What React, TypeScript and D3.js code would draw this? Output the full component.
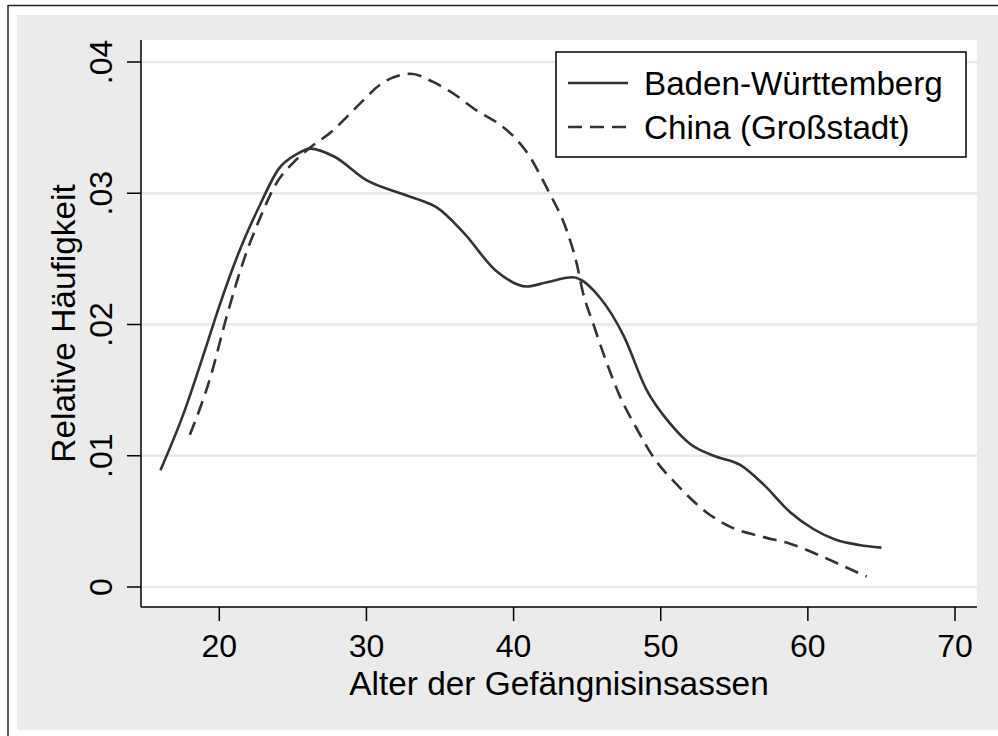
import React from "react";
import * as d3 from "d3";

const bwAge = [16, 17.5, 19.1, 20, 21.4, 22.8, 24, 25.3, 26.2, 27.8, 30, 32.3, 33.6, 34.8, 36.6, 38.8, 40.9, 42.2, 44, 45.9, 47.5, 49, 50.6, 52, 53.6, 55.4, 57, 58.8, 60.4, 61.9, 63.5, 65];
const bwDensity = [0.0089, 0.013, 0.0183, 0.0214, 0.0257, 0.0292, 0.0318, 0.033, 0.0334, 0.0328, 0.031, 0.03, 0.0295, 0.0289, 0.027, 0.0241, 0.0229, 0.0232, 0.0236, 0.022, 0.0191, 0.0151, 0.0125, 0.0109, 0.01, 0.0093, 0.0078, 0.0057, 0.0044, 0.0036, 0.0032, 0.003];

const cnAge = [18, 19.4, 20.5, 21.6, 22.8, 23.9, 25, 26.2, 27.75, 28.65, 29.8, 30.9, 33, 34.5, 35.9, 37.5, 39.1, 40.2, 41.1, 41.8, 42.4, 43.6, 44.3, 44.7, 45.4, 46.1, 47.2, 48.4, 49.5, 51.1, 53.1, 54.7, 57, 58.8, 60.6, 62.4, 64];
const cnDensity = [0.0116, 0.016, 0.0206, 0.0247, 0.0282, 0.0308, 0.0323, 0.0335, 0.0348, 0.0358, 0.0371, 0.03825, 0.0391, 0.0385, 0.0376, 0.0363, 0.0352, 0.0341, 0.0328, 0.0314, 0.0301, 0.0272, 0.0246, 0.0225, 0.0201, 0.0178, 0.0146, 0.012, 0.0099, 0.0078, 0.0057, 0.0046, 0.0038, 0.0033, 0.0025, 0.0016, 0.0008];

const xTicks = [20, 30, 40, 50, 60, 70];
const yTicks = [0, 0.01, 0.02, 0.03, 0.04];
const yTickLabels = ["0", ".01", ".02", ".03", ".04"];
const seriesNames = ["Baden-Württemberg", "China (Großstadt)"];
const xTitle = "Alter der Gefängnisinsassen";
const yTitle = "Relative Häufigkeit";

const FONT = "'Liberation Sans', Arial, Helvetica, sans-serif";
const LINE = "#333333";

export default function App() {
  const W = 998, H = 736;
  const plot = { left: 141, right: 977, top: 40, bottom: 607 };
  const x = d3.scaleLinear().domain([20, 70]).range([219.3, 955]);
  const y = d3.scaleLinear().domain([0, 0.04]).range([587, 62]);
  const line = d3.line<[number, number]>()
    .x((d) => x(d[0]))
    .y((d) => y(d[1]))
    .curve(d3.curveMonotoneX);
  const bw = line(bwAge.map((a, i) => [a, bwDensity[i]]) as [number, number][]) || "";
  const cn = line(cnAge.map((a, i) => [a, cnDensity[i]]) as [number, number][]) || "";
  const dash = "14,8";
  const legend = { x0: 556, y0: 52, x1: 966, y1: 157 };

  return (
    <svg width={W} height={H} style={{ position: "absolute", left: 0, top: 0 }} fontFamily={FONT}>
      <rect x={0} y={0} width={W} height={H} fill="#ffffff" />
      <rect x={17} y={15} width={W - 17} height={730 - 15} fill="#ebebeb" />
      <line x1={8} y1={5.5} x2={W} y2={5.5} stroke="#222" strokeWidth={1.5} />
      <line x1={8} y1={5} x2={8} y2={H} stroke="#222" strokeWidth={1.5} />
      <rect x={plot.left} y={plot.top} width={plot.right - plot.left} height={plot.bottom - plot.top} fill="#ffffff" />
      {yTicks.map((t) => (
        <line key={"g" + t} x1={plot.left} x2={plot.right} y1={y(t)} y2={y(t)} stroke="#e8e8e8" strokeWidth={2.5} />
      ))}
      <path d={bw} fill="none" stroke={LINE} strokeWidth={2.6} />
      <path d={cn} fill="none" stroke={LINE} strokeWidth={2.6} strokeDasharray={dash} />
      <line x1={plot.left} x2={plot.left} y1={plot.top} y2={plot.bottom} stroke="#000" strokeWidth={1.5} />
      <line x1={plot.left} x2={plot.right} y1={plot.bottom} y2={plot.bottom} stroke="#000" strokeWidth={1.5} />
      {yTicks.map((t, i) => (
        <g key={"y" + t}>
          <line x1={plot.left - 14} x2={plot.left} y1={y(t)} y2={y(t)} stroke="#000" strokeWidth={1.5} />
          <text transform={`translate(112,${y(t)}) rotate(-90)`} textAnchor="middle" fontSize={32} fill="#000">
            {yTickLabels[i]}
          </text>
        </g>
      ))}
      {xTicks.map((t) => (
        <g key={"x" + t}>
          <line x1={x(t)} x2={x(t)} y1={plot.bottom} y2={plot.bottom + 14} stroke="#000" strokeWidth={1.5} />
          <text x={x(t)} y={657} textAnchor="middle" fontSize={32} fill="#000">{t}</text>
        </g>
      ))}
      <text x={(plot.left + plot.right) / 2} y={695} textAnchor="middle" fontSize={33.4} fill="#000">{xTitle}</text>
      <text transform={`translate(75,${(plot.top + plot.bottom) / 2}) rotate(-90)`} textAnchor="middle" fontSize={33.4} fill="#000">{yTitle}</text>
      <rect x={legend.x0} y={legend.y0} width={legend.x1 - legend.x0} height={legend.y1 - legend.y0} fill="#fff" stroke="#000" strokeWidth={1.5} />
      <line x1={568} x2={628} y1={83} y2={83} stroke={LINE} strokeWidth={2.6} />
      <line x1={568} x2={628} y1={127} y2={127} stroke={LINE} strokeWidth={2.6} strokeDasharray={dash} />
      <text x={644} y={95} fontSize={33.2} fill="#000">{seriesNames[0]}</text>
      <text x={644} y={138.5} fontSize={33.2} fill="#000">{seriesNames[1]}</text>
    </svg>
  );
}
